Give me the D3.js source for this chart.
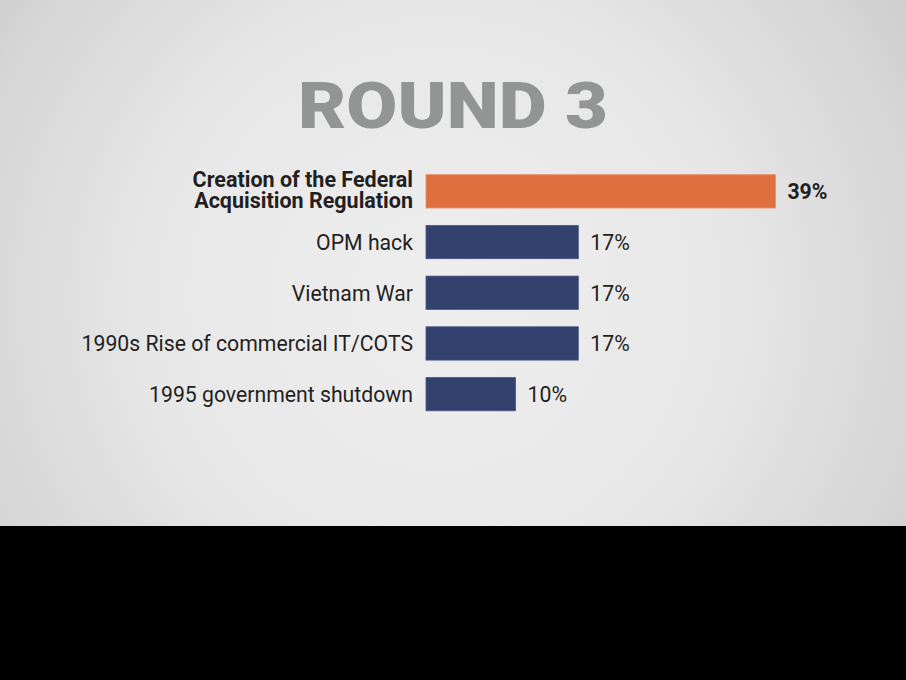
<!DOCTYPE html>
<html><head><meta charset="utf-8">
<script src="https://cdn.jsdelivr.net/npm/d3@7"></script>
<style>html,body{margin:0;padding:0;background:#000;overflow:hidden}</style>
</head><body>
<script>
const categories = [
  ["Creation of the Federal", "Acquisition Regulation"],
  ["OPM hack"],
  ["Vietnam War"],
  ["1990s Rise of commercial IT/COTS"],
  ["1995 government shutdown"]
];
const values = [39, 17, 17, 17, 10];
const valueLabels = ["39%", "17%", "17%", "17%", "10%"];
const highlight = [true, false, false, false, false];
const title = "ROUND 3";

const W = 906, H = 680;
const svg = d3.select("body").append("svg").attr("width", W).attr("height", H);
const defs = svg.append("defs");
const grad = defs.append("radialGradient").attr("id", "bg")
  .attr("gradientUnits", "userSpaceOnUse")
  .attr("cx", 440).attr("cy", 300).attr("r", 620);
grad.append("stop").attr("offset", 0).attr("stop-color", "#efeeef");
grad.append("stop").attr("offset", 0.45).attr("stop-color", "#e9e8e9");
grad.append("stop").attr("offset", 0.8).attr("stop-color", "#d6d5d6");
grad.append("stop").attr("offset", 1).attr("stop-color", "#c6c4c5");

svg.append("rect").attr("width", W).attr("height", H).attr("fill", "#000");
svg.append("rect").attr("width", W).attr("height", 526).attr("fill", "url(#bg)");

const font = "Roboto, 'DejaVu Sans Condensed', sans-serif";
const sxReg = 0.965, sxBold = 1.0; // horizontal scale to imitate the condensed face

svg.append("text").text(title)
  .attr("x", W / 2).attr("y", 128)
  .attr("text-anchor", "middle")
  .attr("font-family", "Roboto, 'DejaVu Sans', sans-serif")
  .attr("font-weight", 900)
  .attr("font-size", 65)
  .attr("textLength", 310).attr("lengthAdjust", "spacingAndGlyphs")
  .attr("fill", "#939594");

const x0 = 426;
const x = d3.scaleLinear().domain([0, 10]).range([x0, x0 + 89.6]);
const idx = d3.range(values.length);
const y = d3.scaleBand().domain(idx).range([174.7, 410.8]).paddingInner(0.343).paddingOuter(0);

const g = svg.append("g");
g.selectAll("rect.bar").data(idx).join("rect")
  .attr("class", "bar")
  .attr("x", x(0))
  .attr("y", i => y(i))
  .attr("width", i => x(values[i]) - x(0))
  .attr("height", y.bandwidth())
  .attr("fill", i => highlight[i] ? "#e06f40" : "#33416f")
  .attr("stroke", i => highlight[i] ? "#ea8b63" : "#4a5784")
  .attr("stroke-width", 0.8);

const sxOf = i => highlight[i] ? sxBold : sxReg;

g.selectAll("text.val").data(idx).join("text")
  .attr("class", "val")
  .attr("transform", i => `scale(${sxReg},1)`)
  .attr("x", i => (x(values[i]) + 12) / sxReg)
  .attr("y", i => y(i) + y.bandwidth() / 2)
  .attr("dy", "0.36em")
  .attr("font-family", font)
  .attr("font-size", 22)
  .attr("font-weight", i => highlight[i] ? 700 : 400)
  .attr("fill", "#231f20")
  .text(i => valueLabels[i]);

const lab = g.selectAll("text.cat").data(idx).join("text")
  .attr("class", "cat")
  .attr("transform", i => `scale(${sxOf(i)},1)`)
  .attr("text-anchor", "end")
  .attr("font-family", font)
  .attr("font-size", i => highlight[i] ? 21.5 : 22)
  .attr("font-weight", i => highlight[i] ? 700 : 400)
  .attr("fill", "#231f20");
lab.each(function(i) {
  const lines = categories[i];
  const cy = y(i) + y.bandwidth() / 2 - (lines.length > 1 ? 2 : 0);
  const lh = 21;
  const t = d3.select(this);
  lines.forEach((s, k) => {
    t.append("tspan").attr("x", (x0 - 13) / sxOf(i))
      .attr("y", cy + (k - (lines.length - 1) / 2) * lh)
      .attr("dy", "0.36em")
      .text(s);
  });
});
</script>
</body></html>
